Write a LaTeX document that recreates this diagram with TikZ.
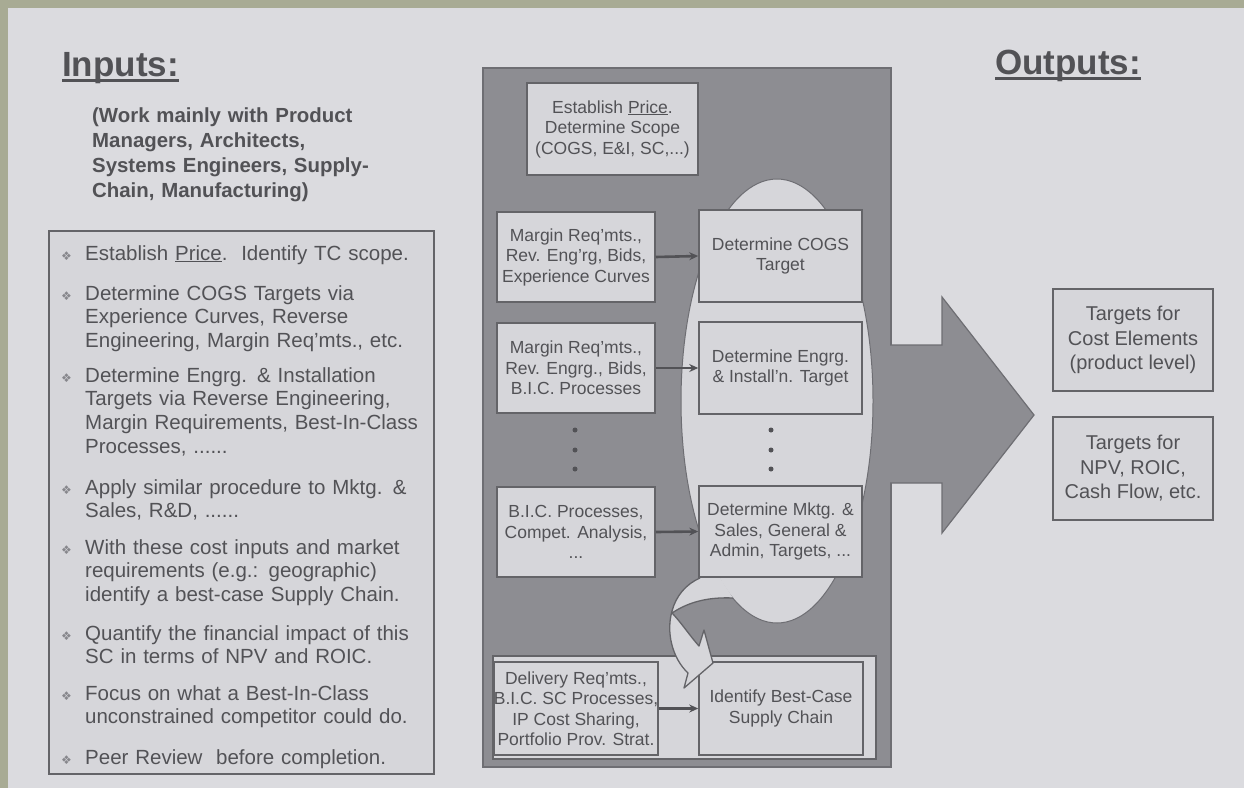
\documentclass[tikz,border=0pt]{standalone}
\usepackage{fontspec}
\setmainfont{Liberation Sans}
\newfontfamily\dingfont{DejaVu Sans}
\usetikzlibrary{arrows.meta,calc}
\definecolor{framegreen}{RGB}{168,171,148}
\definecolor{paper}{RGB}{219,219,223}
\definecolor{panel}{RGB}{141,141,146}
\definecolor{panelline}{RGB}{110,110,115}
\definecolor{boxfill}{RGB}{214,214,218}
\definecolor{boxline}{RGB}{100,100,104}
\definecolor{ink}{RGB}{82,82,86}
\definecolor{bulletgray}{RGB}{135,135,140}
\tikzset{
  head/.style={inner sep=0pt, text=ink, font=\bfseries\fontsize{35}{40}\selectfont},
  item/.style={inner sep=0pt, anchor=base west, align=left, text=ink, text width=345pt,
    font=\fontsize{20.5}{23.8}\selectfont},
  bul/.style={inner sep=0pt, anchor=base west, text=bulletgray, font=\dingfont\fontsize{12}{12}\selectfont},
  cbox/.style={draw=boxline, line width=1.5pt, fill=boxfill, inner sep=0pt, align=center,
    text=ink, font=\fontsize{17.5}{20.5}\selectfont},
  obox/.style={draw=boxline, line width=1.5pt, fill=boxfill, inner sep=0pt, align=center,
    text=ink, font=\fontsize{20}{24.5}\selectfont, minimum width=160pt},
  link/.style={draw=ink, line width=2.6pt, -{Stealth[length=9pt,width=8pt]}},
  vdot/.style={circle, fill=ink, inner sep=0pt, minimum size=5pt},
}
\begin{document}
\begin{tikzpicture}[x=1pt,y=-1pt]
\useasboundingbox (0,0) rectangle (1244,788);
% paper and frame
\fill[paper] (0,0) rectangle (1244,788);
\fill[framegreen] (0,0) rectangle (1244,8);
\fill[framegreen] (0,0) rectangle (8,788);

% ---- Inputs column ----
\node[head, anchor=base west] (inputs) at (62,76) {Inputs:};
\draw[ink, line width=2.5pt] ($(inputs.base west)+(0,4.5)$) -- ($(inputs.base east)+(0,4.5)$);
\node[inner sep=0pt, anchor=base west, align=left, text width=300pt, text=ink,
  font=\bfseries\fontsize{20.4}{25}\selectfont] (team) at (92,122)
  {(Work mainly with Product\\Managers, Architects,\\Systems Engineers, Supply-\\Chain, Manufacturing)};

\node[draw=boxline, line width=1.5pt, fill=boxfill, inner sep=0pt, anchor=north west,
  minimum width=385pt, minimum height=543pt] (inbox) at (48,230) {};

\node[bul] (b1) at (61,260) {❖};
\node[item] (i1) at (85,260) {Establish \underline{Price}.\ \ Identify TC scope.};
\node[bul] (b2) at (61,300) {❖};
\node[item] (i2) at (85,300) {Determine COGS Targets via\\Experience Curves, Reverse\\Engineering, Margin Req'mts., etc.};
\node[bul] (b3) at (61,382) {❖};
\node[item] (i3) at (85,382) {Determine Engrg. \& Installation\\Targets via Reverse Engineering,\\Margin Requirements, Best-In-Class\\Processes, ......};
\node[bul] (b4) at (61,494) {❖};
\node[item] (i4) at (85,494) {Apply similar procedure to Mktg. \&\\Sales, R\&D, ......};
\node[bul] (b5) at (61,554) {❖};
\node[item] (i5) at (85,554) {With these cost inputs and market\\requirements (e.g.: geographic)\\identify a best-case Supply Chain.};
\node[bul] (b6) at (61,640) {❖};
\node[item] (i6) at (85,640) {Quantify the financial impact of this\\SC in terms of NPV and ROIC.};
\node[bul] (b7) at (61,700) {❖};
\node[item] (i7) at (85,700) {Focus on what a Best-In-Class\\unconstrained competitor could do.};
\node[bul] (b8) at (61,764) {❖};
\node[item] (i8) at (85,764) {Peer Review\ \ before completion.};

% ---- central process panel ----
\node[draw=panelline, line width=1.5pt, fill=panel, inner sep=0pt, anchor=north west,
  minimum width=408pt, minimum height=699pt] (panelbox) at (482,67) {};
% big output arrow leaving the panel
\fill[panel] (886,345) -- (942,345) -- (942,297) -- (1034,415) -- (942,533) -- (942,483) -- (886,483) -- cycle;
\draw[panelline, line width=1.2pt] (890,345) -- (942,345) -- (942,297) -- (1034,415) -- (942,533) -- (942,483) -- (890,483);
% target ellipse
\draw[panelline, line width=1pt, fill=boxfill] (777,401) ellipse [x radius=96pt, y radius=222pt];

\node[cbox, minimum width=171pt, minimum height=92pt] (scope) at (612.5,129)
  {Establish \underline{Price}.\\Determine Scope\\(COGS, E\&I, SC,...)};

\node[cbox, minimum width=158pt, minimum height=90pt] (L1) at (576,257)
  {Margin Req'mts.,\\Rev. Eng'rg, Bids,\\Experience Curves};
\node[cbox, minimum width=158pt, minimum height=90pt] (L2) at (576,368)
  {Margin Req'mts.,\\Rev. Engrg., Bids,\\B.I.C. Processes};
\node[cbox, minimum width=158pt, minimum height=90pt] (L3) at (576,532)
  {B.I.C. Processes,\\Compet. Analysis,\\...};

\node[cbox, minimum width=163pt, minimum height=92pt] (R1) at (780.5,256)
  {Determine COGS\\Target};
\node[cbox, minimum width=163pt, minimum height=92pt] (R2) at (780.5,368)
  {Determine Engrg.\\\& Install'n. Target};
\node[cbox, minimum width=163pt, minimum height=91pt] (R3) at (780.5,531.5)
  {Determine Mktg. \&\\Sales, General \&\\Admin, Targets, ...};

\node[vdot] (ld1) at (575,430) {};
\node[vdot] (ld2) at (575,450) {};
\node[vdot] (ld3) at (575,469) {};
\node[vdot] (rd1) at (771,430) {};
\node[vdot] (rd2) at (771,450) {};
\node[vdot] (rd3) at (771,469) {};

% supply-chain strip at the bottom of the panel
\node[draw=boxline, line width=1.5pt, fill=boxfill, inner sep=0pt, anchor=north west,
  minimum width=383pt, minimum height=103pt] (scstrip) at (492,655) {};
\node[cbox, minimum width=162pt, minimum height=93pt] (L4) at (576,708.5)
  {Delivery Req'mts.,\\B.I.C. SC Processes,\\IP Cost Sharing,\\Portfolio Prov. Strat.};
\node[cbox, minimum width=164pt, minimum height=93pt] (R4) at (781,708.5)
  {Identify Best-Case\\Supply Chain};

% curved arrow from the targets down to the supply chain
\fill[boxfill]
  (700,578) .. controls (686,584) and (676,596) .. (672,611)
  .. controls (666,632) and (672,658) .. (688,673)
  -- (684,688) -- (713,663) -- (704,630) -- (699,646)
  .. controls (690,636) and (680,621) .. (672,613)
  .. controls (690,601) and (710,597) .. (733,598) -- (720,578) -- cycle;
\draw[boxline, line width=1.3pt, line join=round]
  (700,578) .. controls (686,584) and (676,596) .. (672,611)
  .. controls (666,632) and (672,658) .. (688,673)
  -- (684,688) -- (713,663) -- (704,630) -- (699,646)
  .. controls (690,636) and (680,621) .. (672,613)
  .. controls (690,601) and (710,597) .. (733,598);

% connectors
\draw[link] (L1.east) -- (R1.west);
\draw[link] (L2.east) -- (R2.west);
\draw[link] (L3.east) -- (R3.west);
\draw[link] (L4.east) -- (R4.west);

% ---- Outputs column ----
\node[head, anchor=base west] (outputs) at (995,74) {Outputs:};
\draw[ink, line width=2.5pt] ($(outputs.base west)+(0,4.5)$) -- ($(outputs.base east)+(0,4.5)$);
\node[obox, minimum height=102pt] (O1) at (1133,340) {Targets for\\Cost Elements\\(product level)};
\node[obox, minimum height=103pt] (O2) at (1133,468.5) {Targets for\\NPV, ROIC,\\Cash Flow, etc.};
\end{tikzpicture}
\end{document}
